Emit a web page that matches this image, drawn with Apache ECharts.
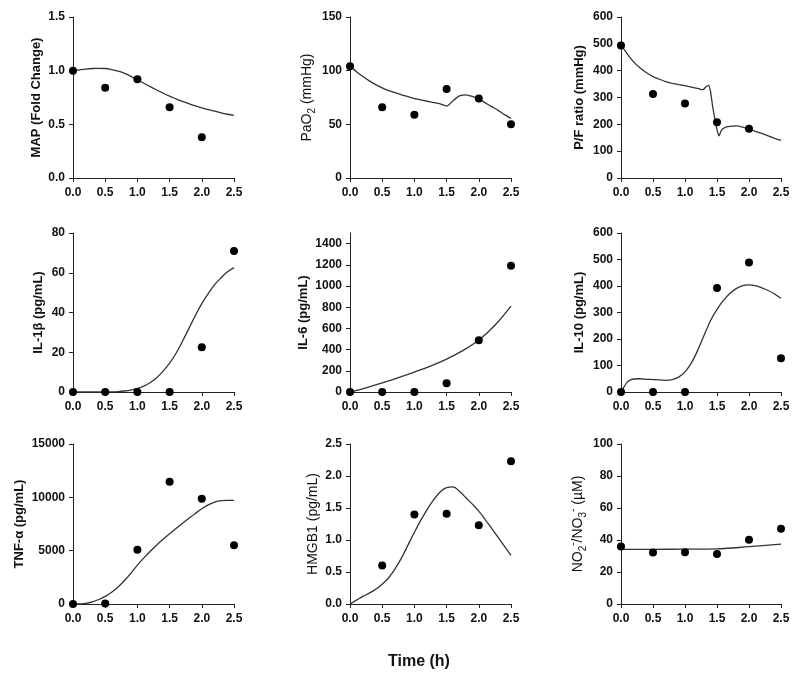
<!DOCTYPE html>
<html><head><meta charset="utf-8">
<script src="https://cdn.jsdelivr.net/npm/echarts@6/dist/echarts.min.js"></script>
<style>html,body{margin:0;padding:0;background:#fff}#c{width:800px;height:684px}</style>
</head><body><div id="c"></div>
<script>
// ---------- data ----------
const xTicks = [0, 0.5, 1.0, 1.5, 2.0, 2.5];
const obsT = [0, 0.5, 1.0, 1.5, 2.0, 2.5];
const modelT = [0,0.1,0.2,0.3,0.4,0.5,0.6,0.7,0.8,0.9,1.0,1.1,1.2,1.3,1.4,1.5,1.6,1.7,1.8,1.9,2.0,2.1,2.2,2.3,2.4,2.5];

// MAP (Fold Change)
const mapObsT = [0, 0.5, 1.0, 1.5, 2.0];
const mapObs = [1.0, 0.84, 0.92, 0.66, 0.38];
const mapModel = [1.0,1.008,1.015,1.02,1.022,1.02,1.01,0.995,0.975,0.947,0.915,0.883,0.851,0.82,0.79,0.762,0.737,0.713,0.692,0.672,0.654,0.638,0.623,0.607,0.594,0.583];
const mapTicks = [0, 0.5, 1.0, 1.5];

// PaO2
const pao2Obs = [104, 66, 59, 83, 74, 50];
const pao2ModelT = [0,0.1,0.2,0.3,0.4,0.5,0.6,0.7,0.8,0.9,1.0,1.1,1.2,1.3,1.4,1.5,1.55,1.6,1.7,1.8,1.9,2.0,2.1,2.2,2.3,2.4,2.5];
const pao2Model = [104.5,99,94.5,90.5,87,84,81.5,79.5,77.5,75.8,74,72.8,71.5,70.3,69,67,69,72,76.5,77.5,76,73.5,70,66.5,63,59,55.5];
const pao2Ticks = [0, 50, 100, 150];

// P/F ratio
const pfObsT = [0, 0.5, 1.0, 1.5, 2.0];
const pfObs = [494, 313, 278, 208, 184];
const pfModelT = [0,0.1,0.2,0.3,0.4,0.5,0.6,0.7,0.8,0.9,1.0,1.1,1.2,1.28,1.33,1.37,1.4,1.43,1.47,1.5,1.53,1.57,1.62,1.7,1.8,1.9,2.0,2.1,2.2,2.3,2.4,2.5];
const pfModel = [495,462,432,410,392,378,368,359,353,348,344,339,334,329,340,345,320,270,215,180,157,178,188,192,194,190,182,174,166,157,148,140];
const pfTicks = [0, 100, 200, 300, 400, 500, 600];

// IL-1beta
const il1bObs = [0, 0, 0, 0, 22.5, 71];
const il1bModel = [0,0,0,0,0,0,0.05,0.2,0.5,1,1.8,3,4.8,7.2,10.5,14.5,19.5,25.5,32,38.5,44.5,49.5,54,57.5,60.5,62.6];
const il1bTicks = [0, 20, 40, 60, 80];

// IL-6
const il6Obs = [0, 0, 0, 82, 488, 1192];
const il6ModelT = [0,0.25,0.5,0.75,1.0,1.25,1.5,1.75,2.0,2.25,2.5];
const il6Model = [0,40,85,135,188,245,310,390,490,630,810];
const il6Ticks = [0, 200, 400, 600, 800, 1000, 1200, 1400];

// IL-10
const il10Obs = [0, 0, 0, 392, 489, 127];
const il10ModelT = [0,0.05,0.1,0.15,0.2,0.3,0.4,0.5,0.6,0.7,0.8,0.9,1.0,1.1,1.2,1.3,1.4,1.5,1.6,1.7,1.8,1.9,2.0,2.1,2.2,2.3,2.4,2.5];
const il10Model = [0,20,38,46,49,50,48,47,46,44,47,56,76,110,158,215,270,312,346,372,390,401,404,401,393,383,370,354];
const il10Ticks = [0, 100, 200, 300, 400, 500, 600];

// TNF-alpha
const tnfObs = [0, 50, 5080, 11460, 9860, 5510];
const tnfModel = [0,10,60,200,420,720,1100,1600,2200,2900,3650,4320,4950,5540,6080,6590,7080,7560,8030,8490,8930,9300,9560,9690,9720,9720];
const tnfTicks = [0, 5000, 10000, 15000];

// HMGB1
const hmgbObsT = [0.5, 1.0, 1.5, 2.0, 2.5];
const hmgbObs = [0.6, 1.4, 1.41, 1.23, 2.23];
const hmgbModel = [0,0.06,0.12,0.17,0.23,0.31,0.41,0.55,0.72,0.92,1.12,1.31,1.48,1.63,1.75,1.82,1.83,1.76,1.66,1.56,1.45,1.32,1.18,1.04,0.9,0.76];
const hmgbTicks = [0, 0.5, 1.0, 1.5, 2.0, 2.5];

// NO2-/NO3-
const noObs = [36, 32.2, 32.4, 31.3, 40.1, 47];
const noModelT = [0, 0.5, 1.0, 1.5, 2.0, 2.5];
const noModel = [34.2, 34.2, 34.3, 34.5, 35.8, 37.4];
const noTicks = [0, 20, 40, 60, 80, 100];

// ---------- layout ----------
const colLeft = [73, 350, 621];
const colWidth = [161, 161, 160];
const rowTop = [17, 233, 444];
const rowHeight = [161, 159, 160];

const zip = (t, v) => t.map((x, i) => [x, v[i]]);

const panels = [
  {name:'MAP (Fold Change)', bold:true, gap:30, ticks:mapTicks, max:1.5, dec:1, smooth:0.4, obs:zip(mapObsT,mapObs), model:zip(modelT,mapModel)},
  {name:'{a|PaO}{s|2}{a| (mmHg)}', rich:true, gap:33, ticks:pao2Ticks, max:150, dec:0, smooth:0.2, obs:zip(obsT,pao2Obs), model:zip(pao2ModelT,pao2Model)},
  {name:'P/F ratio (mmHg)', bold:true, gap:35, ticks:pfTicks, max:600, dec:0, smooth:0.15, obs:zip(pfObsT,pfObs), model:zip(pfModelT,pfModel)},
  {name:'IL-1β (pg/mL)', bold:true, gap:28, ticks:il1bTicks, max:80, dec:0, smooth:0.4, obs:zip(obsT,il1bObs), model:zip(modelT,il1bModel)},
  {name:'IL-6 (pg/mL)', bold:true, gap:40, ticks:il6Ticks, max:1500, dec:0, smooth:0.4, obs:zip(obsT,il6Obs), model:zip(il6ModelT,il6Model)},
  {name:'IL-10 (pg/mL)', bold:true, gap:35, ticks:il10Ticks, max:600, dec:0, smooth:0.3, obs:zip(obsT,il10Obs), model:zip(il10ModelT,il10Model)},
  {name:'TNF-α (pg/mL)', bold:true, gap:47, ticks:tnfTicks, max:15000, dec:0, smooth:0.4, obs:zip(obsT,tnfObs), model:zip(modelT,tnfModel)},
  {name:'HMGB1 (pg/mL)', bold:false, gap:30, ticks:hmgbTicks, max:2.5, dec:1, smooth:0.4, obs:zip(hmgbObsT,hmgbObs), model:zip(modelT,hmgbModel)},
  {name:'{a|NO}{s|2}{p|-}{a|/NO}{s|3}{p|-}{a| (µM)}', rich:true, gap:33, ticks:noTicks, max:100, dec:0, smooth:0.4, obs:zip(obsT,noObs), model:zip(noModelT,noModel)}
];

const FONT = '"Liberation Sans", Arial, sans-serif';
const grid = [], xAxis = [], yAxis = [], series = [];
panels.forEach((p, i) => {
  const r = Math.floor(i / 3), c = i % 3;
  grid.push({left: colLeft[c], top: rowTop[r], width: colWidth[c], height: rowHeight[r], containLabel: false});
  const axisCommon = {
    axisLine: {show: true, lineStyle: {color: '#222', width: 1}},
    axisTick: {show: true, length: 4, inside: false, lineStyle: {color: '#222', width: 1}},
    splitLine: {show: false},
  };
  xAxis.push(Object.assign({}, axisCommon, {
    type: 'value', gridIndex: i, min: 0, max: 2.5, interval: 0.5,
    axisTick: Object.assign({}, axisCommon.axisTick, {customValues: xTicks}),
    axisLabel: {customValues: xTicks, margin: 9, color: '#111', fontFamily: FONT, fontWeight: 'bold', fontSize: 12,
      formatter: v => v.toFixed(1)}
  }));
  const nameStyle = p.rich ? {
    fontFamily: FONT, color: '#111',
    rich: {
      a: {fontSize: 14, fontFamily: FONT, color: '#111', lineHeight: 20},
      s: {fontSize: 10, fontFamily: FONT, color: '#111', lineHeight: 12, verticalAlign: 'bottom'},
      p: {fontSize: 10, fontFamily: FONT, color: '#111', lineHeight: 12, verticalAlign: 'top'}
    }
  } : {fontFamily: FONT, color: '#111', fontWeight: p.bold ? 'bold' : 'normal', fontSize: p.bold ? 13 : 14};
  yAxis.push(Object.assign({}, axisCommon, {
    type: 'value', gridIndex: i, min: 0, max: p.max, interval: p.ticks[1] - p.ticks[0],
    axisTick: Object.assign({}, axisCommon.axisTick, {customValues: p.ticks}),
    axisLabel: {customValues: p.ticks, margin: 8, color: '#111', fontFamily: FONT, fontWeight: 'bold', fontSize: 12,
      formatter: v => v.toFixed(p.dec)},
    name: p.name, nameLocation: 'middle', nameRotate: 90, nameGap: p.gap,
    nameTextStyle: nameStyle
  }));
  series.push({
    type: 'line', xAxisIndex: i, yAxisIndex: i, data: p.model, showSymbol: false,
    smooth: p.smooth, lineStyle: {color: '#333', width: 1.3}, silent: true, z: 2
  });
  series.push({
    type: 'scatter', xAxisIndex: i, yAxisIndex: i, data: p.obs, symbol: 'circle', symbolSize: 8,
    itemStyle: {color: '#000', opacity: 1}, silent: true, z: 3, clip: false
  });
});

const chart = echarts.init(document.getElementById('c'), null, {renderer: 'canvas'});
chart.setOption({
  animation: false,
  backgroundColor: '#fff',
  grid, xAxis, yAxis, series,
  graphic: [{type: 'text', left: 388, top: 654, style: {text: 'Time (h)', fontFamily: FONT, fontWeight: 'bold', fontSize: 16, fill: '#111'}}]
});
</script>
</body></html>
